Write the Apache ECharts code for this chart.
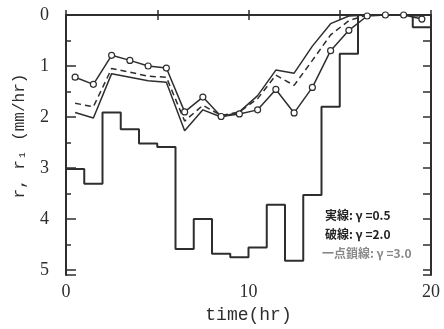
<!DOCTYPE html>
<html>
<head>
<meta charset="utf-8">
<script src="https://cdn.jsdelivr.net/npm/echarts@6/dist/echarts.min.js"></script>
<style>
html, body { margin: 0; padding: 0; background: #fff; }
#main { width: 444px; height: 329px; }
</style>
</head>
<body>
<div id="main"></div>
<script>
// hourly rainfall r1 (mm/hr), one value per hour 0-1 ... 19-20
var hourStarts = [0, 1, 2, 3, 4, 5, 6, 7, 8, 9, 10, 11, 12, 13, 14, 15, 16, 17, 18, 19];
var rainfall = [3.02, 3.31, 1.91, 2.24, 2.52, 2.59, 4.59, 4.0, 4.68, 4.75, 4.56, 3.72, 4.82, 3.53, 1.80, 0.76, 0, 0, 0, 0.24];

// runoff r at mid-hours
var midTimes = [0.5, 1.5, 2.5, 3.5, 4.5, 5.5, 6.5, 7.5, 8.5, 9.5, 10.5, 11.5, 12.5, 13.5, 14.5, 15.5, 16.5, 17.5, 18.5, 19.5];
var observed = [1.22, 1.36, 0.79, 0.89, 1.0, 1.04, 1.9, 1.61, 1.99, 1.94, 1.86, 1.46, 1.92, 1.42, 0.70, 0.30, 0.02, 0, 0, 0.08];
var gamma05 = [1.91, 2.02, 1.15, 1.22, 1.29, 1.32, 2.27, 1.86, 2.0, 1.9, 1.58, 1.08, 1.14, 0.61, 0.17, 0.02, 0, 0, 0, 0.02];
var gamma20 = [1.73, 1.8, 1.05, 1.12, 1.2, 1.22, 2.08, 1.77, 1.97, 1.9, 1.64, 1.18, 1.38, 0.89, 0.39, 0.11, 0, 0, 0, 0.02];

var xLabels = [0, 10, 20];
var yLabels = [0, 1, 2, 3, 4, 5];
var legendLines = ['実線: γ =0.5', '破線: γ =2.0', '一点鎖線: γ =3.0'];

function pairs(xs, ys) {
    var out = [];
    for (var i = 0; i < xs.length; i++) out.push([xs[i], ys[i]]);
    return out;
}

var rainData = pairs(hourStarts, rainfall);
rainData.push([hourStarts[hourStarts.length - 1] + 1, rainfall[rainfall.length - 1]]);

var ink = '#2e2e2e';
var serif = '"Liberation Serif", "DejaVu Serif", serif';
var mono = '"Liberation Mono", "DejaVu Sans Mono", monospace';
var cjk = '"Noto Sans CJK JP", serif';

var chart = echarts.init(document.getElementById('main'));
var option = {
    backgroundColor: '#fff',
    animation: false,
    grid: { left: 66, right: 13, top: 15, bottom: 41 },
    xAxis: [{
        type: 'value', min: 0, max: 20, interval: 5, position: 'bottom',
        name: 'time(hr)', nameLocation: 'middle', nameGap: 26,
        nameTextStyle: { fontFamily: mono, fontSize: 18, color: ink },
        axisLine: { lineStyle: { color: ink, width: 2 } },
        axisTick: { inside: true, length: 5, lineStyle: { color: ink, width: 1.5 } },
        axisLabel: {
            margin: 8, fontFamily: serif, fontSize: 18, color: ink,
            formatter: function (v) { return xLabels.indexOf(v) >= 0 ? String(v) : ''; }
        },
        splitLine: { show: false }
    }, {
        type: 'value', min: 0, max: 20, interval: 5, position: 'top',
        axisLine: { lineStyle: { color: ink, width: 2 } },
        axisTick: { inside: true, length: 5, lineStyle: { color: ink, width: 1.5 } },
        axisLabel: { show: false },
        splitLine: { show: false }
    }],
    yAxis: [{
        type: 'value', inverse: true, min: 0, max: 5.1, interval: 1, position: 'left',
        name: 'r, r\u2081 (mm/hr)', nameLocation: 'middle', nameGap: 38, nameRotate: 90,
        nameTextStyle: { fontFamily: mono, fontSize: 16, color: ink, padding: [0, 0, 0, 18] },
        axisLine: { lineStyle: { color: ink, width: 2 } },
        axisTick: { inside: true, length: 10, lineStyle: { color: ink, width: 1.5 } },
        axisLabel: {
            margin: 17, fontFamily: serif, fontSize: 18, color: ink,
            formatter: function (v) { return yLabels.indexOf(v) >= 0 ? String(v) : ''; }
        },
        splitLine: { show: false }
    }, {
        type: 'value', inverse: true, min: 0, max: 5.1, interval: 0.5, position: 'left',
        axisLine: { show: false },
        axisTick: { inside: true, length: 5, lineStyle: { color: ink, width: 1.5 } },
        axisLabel: { show: false },
        splitLine: { show: false }
    }, {
        type: 'value', inverse: true, min: 0, max: 5.1, interval: 0.5, position: 'right',
        axisLine: { lineStyle: { color: ink, width: 2 } },
        axisTick: { inside: true, length: 8, lineStyle: { color: ink, width: 1.5 } },
        axisLabel: { show: false },
        splitLine: { show: false }
    }],
    series: [{
        name: 'rainfall', type: 'line', step: 'end', data: rainData,
        showSymbol: false, lineStyle: { color: ink, width: 2 }
    }, {
        name: 'gamma05', type: 'line', data: pairs(midTimes, gamma05),
        showSymbol: false, lineStyle: { color: ink, width: 1.5 }
    }, {
        name: 'gamma20', type: 'line', data: pairs(midTimes, gamma20),
        showSymbol: false, lineStyle: { color: ink, width: 1.5, type: [6, 4] }
    }, {
        name: 'observed', type: 'line', data: pairs(midTimes, observed),
        symbol: 'circle', symbolSize: 6,
        itemStyle: { color: '#fff', borderColor: ink, borderWidth: 1.2 },
        lineStyle: { color: ink, width: 1.5 }
    }],
    graphic: [
        { type: 'text', left: 325, top: 209, style: { text: legendLines[0], fontFamily: cjk, fontSize: 12, fontWeight: 'bold', fill: '#222' } },
        { type: 'text', left: 325, top: 228, style: { text: legendLines[1], fontFamily: cjk, fontSize: 12, fontWeight: 'bold', fill: '#222' } },
        { type: 'text', left: 322, top: 247, style: { text: legendLines[2], fontFamily: cjk, fontSize: 12, fontWeight: 'bold', fill: '#888' } }
    ]
};
chart.setOption(option);
</script>
</body>
</html>
